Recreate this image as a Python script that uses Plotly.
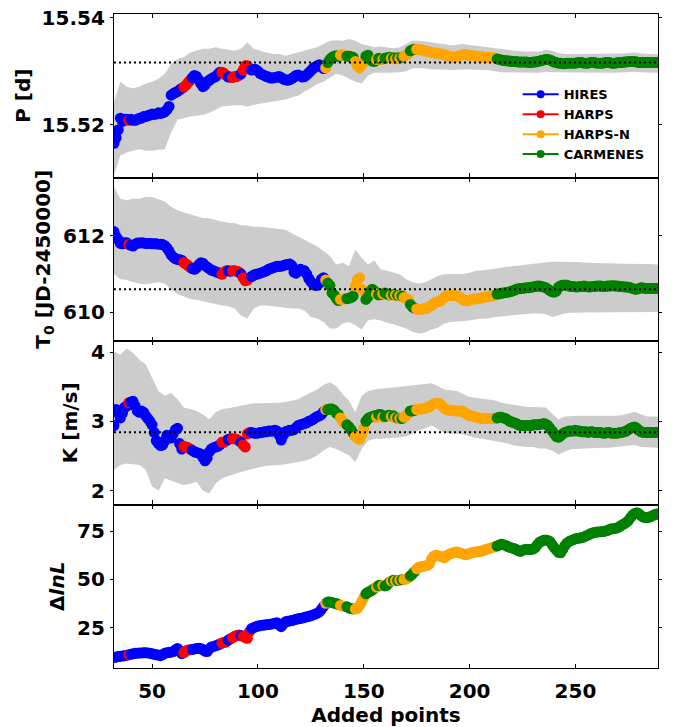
import plotly.graph_objects as go

# ---------------- data ----------------
ADDED = list(range(32, 290))          # number of added RV points (x axis)
BAND_X = list(range(32, 288, 3)) + [289]

INSTR_CODES = "".join([
    "HHHHHHHRHH", "HHHHHHHHHH", "HHHHHHHHHH", "HHHRRRRHHH", "HHHHHHHHHH",
    "HRRRHHRRRR", "HRRRRHHHHH", "HHHHHHHHHH", "HHHHHHHHHH", "HHHHHHHHHH",
    "NCCCCCCNNN", "CCCCNNNNNC", "CCCCNCCNCC", "CNCNCNCNNN", "CCCNNNNNNN",
    "NNNNNNNNNN", "NNNNNNNNNN", "NNNNNNNNNN", "NCCCCCCCCC", "CCCCCCCCCC",
    "CCCCCCCCCC", "CCCCCCCCCC", "CCCCCCCCCC", "CCCCCCCCCC", "CCCCCCCCCC",
    "CCCCCCCC",
])
INSTRUMENTS = ["HIRES", "HARPS", "HARPS-N", "CARMENES"]
CODE_TO_INSTR = {"H": "HIRES", "R": "HARPS", "N": "HARPS-N", "C": "CARMENES"}
COLORS = {"HIRES": "#0000ff", "HARPS": "#ff0000", "HARPS-N": "#ffa500", "CARMENES": "#008000"}

P = [
    15.5165, 15.5175, 15.5190, 15.5212, 15.5206, 15.5210, 15.5210, 15.5208, 15.5210, 15.5208,
    15.5208, 15.5210, 15.5212, 15.5212, 15.5215, 15.5215, 15.5217, 15.5218, 15.5220, 15.5219,
    15.5220, 15.5222, 15.5221, 15.5222, 15.5224, 15.5228, 15.5234, 15.5255, 15.5258, 15.5260,
    15.5262, 15.5265, 15.5268, 15.5270, 15.5274, 15.5279, 15.5283, 15.5288, 15.5292, 15.5290,
    15.5284, 15.5277, 15.5271, 15.5274, 15.5280, 15.5283, 15.5286, 15.5288, 15.5290, 15.5294,
    15.5298, 15.5298, 15.5296, 15.5292, 15.5289, 15.5289, 15.5288, 15.5290, 15.5290, 15.5292,
    15.5295, 15.5302, 15.5310, 15.5310, 15.5305, 15.5302, 15.5303, 15.5303, 15.5300, 15.5296,
    15.5294, 15.5292, 15.5290, 15.5289, 15.5287, 15.5287, 15.5288, 15.5289, 15.5290, 15.5288,
    15.5285, 15.5284, 15.5283, 15.5284, 15.5286, 15.5289, 15.5292, 15.5293, 15.5291, 15.5289,
    15.5290, 15.5293, 15.5297, 15.5301, 15.5305, 15.5308, 15.5310, 15.5312, 15.5308, 15.5305,
    15.5306, 15.5316, 15.5322, 15.5326, 15.5328, 15.5329, 15.5327, 15.5330, 15.5331, 15.5330,
    15.5328, 15.5328, 15.5327, 15.5326, 15.5318, 15.5310, 15.5306, 15.5312, 15.5318, 15.5328,
    15.5330, 15.5322, 15.5319, 15.5318, 15.5322, 15.5324, 15.5323, 15.5322, 15.5324, 15.5325,
    15.5326, 15.5324, 15.5325, 15.5323, 15.5325, 15.5324, 15.5326, 15.5328, 15.5330, 15.5333,
    15.5338, 15.5340, 15.5341, 15.5341, 15.5340, 15.5340, 15.5339, 15.5338, 15.5337, 15.5336,
    15.5335, 15.5334, 15.5334, 15.5333, 15.5332, 15.5332, 15.5331, 15.5330, 15.5328, 15.5327,
    15.5326, 15.5326, 15.5327, 15.5328, 15.5330, 15.5331, 15.5331, 15.5330, 15.5329, 15.5329,
    15.5329, 15.5328, 15.5328, 15.5327, 15.5327, 15.5326, 15.5326, 15.5326, 15.5325, 15.5325,
    15.5325, 15.5323, 15.5322, 15.5321, 15.5320, 15.5320, 15.5319, 15.5319, 15.5318, 15.5318,
    15.5318, 15.5317, 15.5317, 15.5317, 15.5317, 15.5317, 15.5316, 15.5316, 15.5317, 15.5317,
    15.5318, 15.5319, 15.5320, 15.5321, 15.5322, 15.5322, 15.5321, 15.5319, 15.5317, 15.5316,
    15.5315, 15.5315, 15.5314, 15.5314, 15.5315, 15.5315, 15.5315, 15.5315, 15.5315, 15.5316,
    15.5316, 15.5316, 15.5315, 15.5315, 15.5315, 15.5316, 15.5316, 15.5316, 15.5315, 15.5315,
    15.5315, 15.5315, 15.5316, 15.5316, 15.5316, 15.5315, 15.5315, 15.5315, 15.5316, 15.5316,
    15.5316, 15.5317, 15.5317, 15.5318, 15.5318, 15.5318, 15.5318, 15.5317, 15.5316, 15.5316,
    15.5316, 15.5316, 15.5316, 15.5316, 15.5316, 15.5316, 15.5316, 15.5316,
]
P_HI = [
    15.5243, 15.5280, 15.5271, 15.5268, 15.5271, 15.5277, 15.5280, 15.5286, 15.5295, 15.5314,
    15.5323, 15.5326, 15.5335, 15.5338, 15.5342, 15.5342, 15.5345, 15.5342, 15.5340, 15.5338,
    15.5342, 15.5354, 15.5342, 15.5338, 15.5335, 15.5332, 15.5332, 15.5329, 15.5332, 15.5335,
    15.5338, 15.5342, 15.5345, 15.5351, 15.5357, 15.5358, 15.5357, 15.5360, 15.5357, 15.5351,
    15.5348, 15.5345, 15.5346, 15.5345, 15.5343, 15.5345, 15.5351, 15.5357, 15.5357, 15.5356,
    15.5354, 15.5352, 15.5351, 15.5348, 15.5349, 15.5351, 15.5349, 15.5348, 15.5346, 15.5345,
    15.5343, 15.5342, 15.5340, 15.5338, 15.5337, 15.5337, 15.5337, 15.5337, 15.5340, 15.5338,
    15.5334, 15.5332, 15.5332, 15.5332, 15.5332, 15.5333, 15.5332, 15.5332, 15.5332, 15.5332,
    15.5333, 15.5334, 15.5335, 15.5333, 15.5332, 15.5332, 15.5332,
]
P_LO = [
    15.5105, 15.5142, 15.5148, 15.5151, 15.5154, 15.5151, 15.5151, 15.5153, 15.5154, 15.5185,
    15.5209, 15.5212, 15.5215, 15.5217, 15.5218, 15.5222, 15.5228, 15.5234, 15.5235, 15.5236,
    15.5236, 15.5234, 15.5237, 15.5240, 15.5241, 15.5243, 15.5245, 15.5247, 15.5251, 15.5254,
    15.5262, 15.5268, 15.5276, 15.5280, 15.5288, 15.5295, 15.5292, 15.5286, 15.5280, 15.5277,
    15.5292, 15.5297, 15.5297, 15.5297, 15.5297, 15.5298, 15.5300, 15.5305, 15.5306, 15.5305,
    15.5303, 15.5303, 15.5303, 15.5302, 15.5302, 15.5303, 15.5303, 15.5303, 15.5302, 15.5302,
    15.5300, 15.5298, 15.5297, 15.5297, 15.5297, 15.5297, 15.5297, 15.5297, 15.5299, 15.5298,
    15.5297, 15.5297, 15.5297, 15.5297, 15.5297, 15.5297, 15.5297, 15.5297, 15.5297, 15.5297,
    15.5297, 15.5298, 15.5299, 15.5298, 15.5297, 15.5297, 15.5297,
]
P_REF = 15.5316

T0 = [
    612.11, 611.98, 611.90, 611.80, 611.79, 611.82, 611.82, 611.77, 611.75, 611.73,
    611.78, 611.81, 611.81, 611.82, 611.81, 611.80, 611.80, 611.80, 611.79, 611.79,
    611.79, 611.78, 611.78, 611.77, 611.74, 611.68, 611.60, 611.50, 611.44, 611.40,
    611.38, 611.37, 611.36, 611.30, 611.26, 611.22, 611.17, 611.14, 611.12, 611.16,
    611.24, 611.29, 611.28, 611.22, 611.18, 611.14, 611.10, 611.08, 611.06, 611.04,
    611.02, 610.99, 611.05, 611.08, 611.08, 611.07, 611.08, 611.08, 611.07, 611.05,
    611.00, 610.90, 610.82, 610.84, 610.90, 610.93, 610.97, 610.99, 611.00, 611.02,
    611.04, 611.06, 611.08, 611.12, 611.14, 611.16, 611.18, 611.20, 611.20, 611.20,
    611.22, 611.24, 611.25, 611.26, 611.22, 611.05, 611.02, 611.08, 611.12, 611.10,
    611.08, 611.00, 610.88, 610.80, 610.73, 610.70, 610.70, 610.76, 610.86, 610.90,
    610.84, 610.76, 610.70, 610.50, 610.45, 610.36, 610.30, 610.33, 610.34, 610.35,
    610.35, 610.36, 610.38, 610.42, 610.68, 610.85, 610.90, 610.60, 610.55, 610.33,
    610.40, 610.52, 610.60, 610.55, 610.47, 610.45, 610.46, 610.48, 610.50, 610.47,
    610.45, 610.44, 610.46, 610.45, 610.44, 610.43, 610.42, 610.38, 610.35, 610.33,
    610.20, 610.13, 610.10, 610.08, 610.07, 610.07, 610.08, 610.09, 610.10, 610.14,
    610.17, 610.22, 610.26, 610.27, 610.28, 610.33, 610.38, 610.43, 610.43, 610.44,
    610.43, 610.43, 610.42, 610.40, 610.36, 610.32, 610.30, 610.29, 610.31, 610.33,
    610.34, 610.35, 610.35, 610.36, 610.38, 610.39, 610.40, 610.41, 610.42, 610.43,
    610.44, 610.47, 610.48, 610.49, 610.50, 610.51, 610.52, 610.53, 610.55, 610.57,
    610.60, 610.61, 610.62, 610.62, 610.63, 610.64, 610.64, 610.65, 610.66, 610.67,
    610.68, 610.68, 610.67, 610.66, 610.64, 610.60, 610.56, 610.53, 610.52, 610.55,
    610.65, 610.69, 610.70, 610.71, 610.70, 610.68, 610.67, 610.67, 610.66, 610.66,
    610.67, 610.67, 610.68, 610.67, 610.66, 610.66, 610.67, 610.67, 610.68, 610.68,
    610.68, 610.67, 610.67, 610.68, 610.68, 610.69, 610.69, 610.68, 610.68, 610.67,
    610.67, 610.66, 610.66, 610.65, 610.64, 610.62, 610.60, 610.60, 610.62, 610.64,
    610.63, 610.62, 610.62, 610.62, 610.62, 610.62, 610.62, 610.62,
]
T0_HI = [
    613.28, 612.97, 612.93, 612.97, 612.97, 613.02, 613.02, 612.97, 612.90, 612.76,
    612.67, 612.61, 612.56, 612.50, 612.47, 612.46, 612.41, 612.37, 612.35, 612.33,
    612.28, 612.27, 612.24, 612.24, 612.22, 612.20, 612.18, 612.16, 612.07, 611.98,
    611.90, 611.81, 611.72, 611.60, 611.47, 611.25, 611.29, 611.21, 611.64, 611.42,
    611.25, 611.35, 611.12, 611.08, 611.03, 610.99, 610.86, 610.78, 610.75, 610.78,
    610.86, 610.95, 610.99, 610.99, 611.00, 611.00, 611.03, 611.08, 611.09, 611.12,
    611.14, 611.16, 611.19, 611.21, 611.23, 611.25, 611.27, 611.29, 611.31, 611.32,
    611.32, 611.32, 611.31, 611.31, 611.30, 611.29, 611.29, 611.28, 611.28, 611.27,
    611.27, 611.27, 611.26, 611.26, 611.26, 611.25, 611.25,
]
T0_LO = [
    610.99, 610.86, 610.84, 610.78, 610.75, 610.73, 610.75, 610.78, 610.75, 610.60,
    610.47, 610.41, 610.34, 610.32, 610.28, 610.23, 610.20, 610.17, 610.15, 610.09,
    609.91, 609.83, 610.09, 610.17, 610.17, 610.15, 610.13, 610.11, 610.09, 610.09,
    610.04, 609.87, 609.83, 609.74, 609.57, 609.57, 609.70, 609.74, 609.66, 609.54,
    609.78, 609.81, 609.78, 609.72, 609.68, 609.63, 609.57, 609.48, 609.44, 609.46,
    609.54, 609.59, 609.70, 609.74, 609.76, 609.77, 609.78, 609.81, 609.83, 609.84,
    609.87, 609.89, 609.90, 609.92, 609.94, 609.95, 609.96, 609.96, 609.94, 609.87,
    609.91, 609.96, 609.98, 609.98, 609.99, 609.99, 610.00, 610.00, 610.00, 610.00,
    610.00, 610.00, 609.99, 610.00, 610.00, 610.00, 610.00,
]
T0_REF = 610.60

K = [
    2.94, 3.17, 3.12, 3.05, 3.12, 3.20, 3.22, 3.27, 3.28, 3.29,
    3.22, 3.15, 3.13, 3.15, 3.13, 3.08, 3.04, 3.00, 2.95, 2.84,
    2.72, 2.68, 2.65, 2.66, 2.72, 2.80, 2.78, 2.76, 2.82, 2.88,
    2.90, 2.68, 2.60, 2.64, 2.63, 2.62, 2.60, 2.58, 2.56, 2.55,
    2.54, 2.53, 2.48, 2.43, 2.47, 2.56, 2.60, 2.62, 2.63, 2.64,
    2.66, 2.70, 2.70, 2.72, 2.74, 2.75, 2.75, 2.75, 2.74, 2.72,
    2.70, 2.66, 2.63, 2.82, 2.84, 2.84, 2.83, 2.83, 2.83, 2.84,
    2.84, 2.85, 2.85, 2.86, 2.86, 2.86, 2.87, 2.86, 2.80, 2.73,
    2.80, 2.85, 2.86, 2.87, 2.87, 2.88, 2.91, 2.94, 2.95, 2.96,
    2.97, 2.98, 3.00, 3.01, 3.03, 3.05, 3.07, 3.08, 3.10, 3.14,
    3.17, 3.17, 3.18, 3.18, 3.16, 3.12, 3.10, 3.05, 3.00, 2.98,
    2.95, 2.92, 2.88, 2.83, 2.78, 2.76, 2.74, 2.80, 2.90, 3.00,
    3.04, 3.06, 3.07, 3.08, 3.06, 3.10, 3.10, 3.06, 3.07, 3.08,
    3.09, 3.07, 3.08, 3.05, 3.05, 3.04, 3.04, 3.06, 3.08, 3.12,
    3.15, 3.15, 3.16, 3.17, 3.18, 3.18, 3.18, 3.19, 3.20, 3.21,
    3.23, 3.25, 3.26, 3.26, 3.25, 3.22, 3.19, 3.17, 3.16, 3.16,
    3.16, 3.15, 3.15, 3.15, 3.15, 3.14, 3.12, 3.10, 3.08, 3.08,
    3.07, 3.06, 3.05, 3.05, 3.04, 3.04, 3.04, 3.04, 3.04, 3.04,
    3.04, 3.05, 3.06, 3.06, 3.05, 3.04, 3.02, 3.00, 2.99, 2.98,
    2.97, 2.95, 2.94, 2.94, 2.94, 2.94, 2.94, 2.94, 2.95, 2.95,
    2.95, 2.96, 2.96, 2.97, 2.96, 2.94, 2.90, 2.86, 2.82, 2.78,
    2.77, 2.79, 2.82, 2.84, 2.85, 2.86, 2.86, 2.86, 2.87, 2.86,
    2.86, 2.85, 2.85, 2.85, 2.84, 2.85, 2.85, 2.84, 2.84, 2.84,
    2.84, 2.83, 2.83, 2.84, 2.84, 2.83, 2.83, 2.83, 2.83, 2.84,
    2.84, 2.85, 2.86, 2.88, 2.90, 2.91, 2.92, 2.90, 2.87, 2.85,
    2.84, 2.84, 2.84, 2.84, 2.84, 2.84, 2.84, 2.84,
]
K_HI = [
    4.01, 3.96, 4.05, 3.99, 3.89, 3.82, 3.63, 3.44, 3.37, 3.41,
    3.32, 3.20, 3.18, 3.15, 3.10, 3.03, 3.13, 3.18, 3.19, 3.21,
    3.22, 3.25, 3.26, 3.26, 3.26, 3.27, 3.27, 3.28, 3.30, 3.32,
    3.37, 3.41, 3.46, 3.53, 3.56, 3.51, 3.39, 3.30, 3.13, 3.37,
    3.44, 3.46, 3.47, 3.49, 3.49, 3.50, 3.51, 3.52, 3.53, 3.54,
    3.55, 3.51, 3.46, 3.45, 3.44, 3.39, 3.35, 3.34, 3.33, 3.32,
    3.30, 3.27, 3.25, 3.23, 3.22, 3.21, 3.21, 3.20, 3.20, 3.11,
    3.03, 3.07, 3.08, 3.08, 3.08, 3.08, 3.07, 3.07, 3.07, 3.08,
    3.09, 3.11, 3.14, 3.10, 3.07, 3.07, 3.07,
]
K_LO = [
    2.30, 2.37, 2.39, 2.38, 2.37, 2.30, 2.06, 2.00, 2.18, 2.15,
    2.11, 2.08, 2.10, 2.13, 2.00, 1.96, 2.10, 2.18, 2.21, 2.24,
    2.27, 2.30, 2.32, 2.34, 2.36, 2.37, 2.37, 2.38, 2.40, 2.41,
    2.43, 2.46, 2.51, 2.58, 2.63, 2.60, 2.56, 2.51, 2.41, 2.60,
    2.72, 2.75, 2.75, 2.76, 2.76, 2.77, 2.78, 2.82, 2.87, 2.90,
    2.94, 2.89, 2.84, 2.82, 2.82, 2.81, 2.79, 2.76, 2.75, 2.73,
    2.72, 2.70, 2.68, 2.65, 2.64, 2.63, 2.63, 2.61, 2.61, 2.58,
    2.52, 2.56, 2.60, 2.60, 2.61, 2.61, 2.62, 2.62, 2.62, 2.62,
    2.63, 2.65, 2.66, 2.63, 2.62, 2.62, 2.62,
]
K_REF = 2.843

DLNL = [
    9.5, 9.8, 10.0, 10.2, 10.3, 10.5, 10.7, 10.9, 11.2, 11.5,
    11.7, 11.8, 11.9, 11.9, 12.0, 12.0, 11.9, 11.8, 11.5, 11.2,
    11.0, 10.8, 10.5, 11.0, 11.8, 12.0, 12.2, 12.3, 12.6, 13.5,
    14.2, 13.0, 11.5, 12.0, 13.0, 13.4, 13.5, 13.7, 14.0, 14.2,
    14.3, 14.2, 13.5, 12.8, 12.6, 14.0, 15.0, 15.3, 15.6, 16.0,
    16.5, 17.0, 17.3, 17.7, 18.5, 19.2, 19.8, 20.5, 21.0, 21.2,
    21.0, 20.5, 19.8, 19.5, 23.0, 24.5, 25.0, 25.5, 25.8, 26.0,
    26.2, 26.4, 26.5, 26.6, 26.8, 27.0, 27.3, 27.5, 26.5, 25.5,
    27.0, 28.0, 28.3, 28.5, 28.7, 29.0, 29.3, 29.6, 29.8, 30.0,
    30.3, 30.6, 30.9, 31.2, 31.6, 32.0, 32.5, 33.2, 34.5, 36.0,
    37.6, 38.3, 38.3, 38.0, 37.7, 37.5, 37.0, 36.5, 36.2, 36.0,
    35.8, 35.2, 34.9, 34.7, 34.6, 35.0, 36.5, 38.5, 40.5, 42.5,
    43.3, 43.8, 44.5, 45.3, 46.0, 46.8, 47.0, 46.8, 46.6, 47.0,
    48.5, 49.2, 49.5, 49.3, 49.4, 49.6, 49.8, 50.0, 50.2, 50.8,
    51.8, 52.8, 54.0, 55.5, 56.3, 56.6, 56.8, 57.0, 57.3, 58.0,
    60.5, 62.0, 62.5, 62.3, 62.0, 61.8, 61.2, 62.0, 62.8, 63.3,
    63.6, 64.0, 64.2, 63.8, 63.5, 63.2, 62.8, 63.0, 63.5, 63.8,
    64.0, 64.2, 64.4, 64.5, 64.8, 65.2, 65.6, 65.9, 66.3, 66.6,
    67.0, 67.3, 67.8, 68.2, 68.0, 67.6, 67.0, 66.6, 66.3, 66.0,
    65.5, 64.8, 64.5, 65.0, 65.5, 65.6, 65.5, 65.5, 65.7, 66.5,
    68.0, 69.2, 69.8, 70.3, 70.4, 70.2, 69.5, 68.0, 66.5, 65.2,
    64.0, 63.8, 65.5, 67.5, 68.8, 69.6, 70.2, 70.6, 71.0, 71.2,
    71.4, 71.6, 72.0, 72.5, 73.0, 73.6, 74.0, 74.3, 74.5, 74.6,
    74.7, 74.8, 75.0, 75.3, 75.8, 76.2, 76.3, 76.5, 76.8, 77.5,
    78.2, 78.8, 79.5, 80.5, 82.0, 83.3, 84.2, 84.5, 84.0, 83.0,
    82.3, 82.0, 82.0, 82.3, 82.8, 83.3, 83.7, 84.0,
]

Y_TITLES = ["P [d]", "T<sub>0</sub> [JD-2450000]", "K [m/s]", "Δ<i>lnL</i>"]
Y_RANGES = [[15.5101, 15.5407], [609.24, 613.53], [1.80, 4.16], [4.1, 88.8]]
Y_TICKS = [[15.52, 15.54], [610, 612], [2, 3, 4], [25, 50, 75]]
X_TICKS = [50, 100, 150, 200, 250]
X_RANGE = [32, 289]

for arr in (P, T0, K, DLNL):
    assert len(arr) == len(ADDED), len(arr)
for arr in (P_HI, P_LO, T0_HI, T0_LO, K_HI, K_LO):
    assert len(arr) == len(BAND_X), len(arr)
assert len(INSTR_CODES) == len(ADDED)

# ---------------- figure ----------------
point_colors = [COLORS[CODE_TO_INSTR[c]] for c in INSTR_CODES]
BAND_COLOR = "#cccccc"
FONT = dict(family="DejaVu Sans", size=20, color="black", weight="bold")

fig = go.Figure()
series = [
    (P, P_LO, P_HI, P_REF),
    (T0, T0_LO, T0_HI, T0_REF),
    (K, K_LO, K_HI, K_REF),
    (DLNL, None, None, None),
]
shapes = []
for i, (vals, lo, hi, ref) in enumerate(series):
    ax = "" if i == 0 else str(i + 1)
    xa, ya = "x" + ax, "y" + ax
    if lo is not None:
        fig.add_trace(go.Scatter(
            x=BAND_X + BAND_X[::-1], y=hi + lo[::-1],
            fill="toself", fillcolor=BAND_COLOR, mode="lines",
            line=dict(width=0, color=BAND_COLOR), showlegend=False,
            hoverinfo="skip", xaxis=xa, yaxis=ya))
    fig.add_trace(go.Scatter(
        x=ADDED, y=vals, mode="markers",
        marker=dict(size=11, color=point_colors, line=dict(width=0)),
        showlegend=False, xaxis=xa, yaxis=ya))
    if ref is not None:
        shapes.append(dict(type="line", xref=xa + " domain", yref=ya,
                           x0=0, x1=1, y0=ref, y1=ref, layer="above",
                           line=dict(color="black", width=2, dash="2px,3px")))

for name in INSTRUMENTS:
    fig.add_trace(go.Scatter(
        x=[None], y=[None], mode="lines+markers", name=name,
        marker=dict(size=8, color=COLORS[name]),
        line=dict(width=2, color=COLORS[name]), xaxis="x", yaxis="y"))

layout = dict(
    width=676, height=727,
    margin=dict(l=114, r=18, t=6, b=59),
    paper_bgcolor="white", plot_bgcolor="white",
    font=FONT, shapes=shapes,
    legend=dict(x=0.742, y=0.900, xanchor="left", yanchor="top",
                bgcolor="rgba(0,0,0,0)", itemwidth=36,
                font=dict(family="DejaVu Sans", size=13, color="black", weight="bold"),
                tracegroupgap=0),
)
domains = [[0.75, 1.0], [0.5, 0.75], [0.25, 0.5], [0.0, 0.25]]
for i in range(4):
    ax = "" if i == 0 else str(i + 1)
    xaxis = dict(
        range=X_RANGE, tickvals=X_TICKS, ticks="inside", ticklen=4,
        tickwidth=1.3, tickcolor="black",
        showline=True, linecolor="black", linewidth=1.3, mirror="ticks",
        showgrid=False, zeroline=False, anchor="y" + ax,
        showticklabels=(i == 3), ticklabelstandoff=5,
        tickfont=FONT,
    )
    if i == 3:
        xaxis["title"] = dict(text="Added points", font=FONT, standoff=2)
    else:
        xaxis["matches"] = "x4"
    layout["xaxis" + ax] = xaxis
    layout["yaxis" + ax] = dict(
        domain=domains[i], range=Y_RANGES[i], tickvals=Y_TICKS[i],
        ticks="outside", ticklen=3, tickwidth=1.3, tickcolor="black",
        showline=True, linecolor="black", linewidth=1.3, mirror="ticks",
        showgrid=False, zeroline=False, anchor="x" + ax,
        tickfont=FONT, ticklabelstandoff=1, ticklabeloverflow="allow",
        title=dict(text=Y_TITLES[i], font=FONT, standoff=5 if i == 0 else 7),
    )
fig.update_layout(**layout)
fig.write_html("out.html", config={"displayModeBar": False},
               post_script="document.body.style.margin='0px';document.body.style.padding='0px';")
